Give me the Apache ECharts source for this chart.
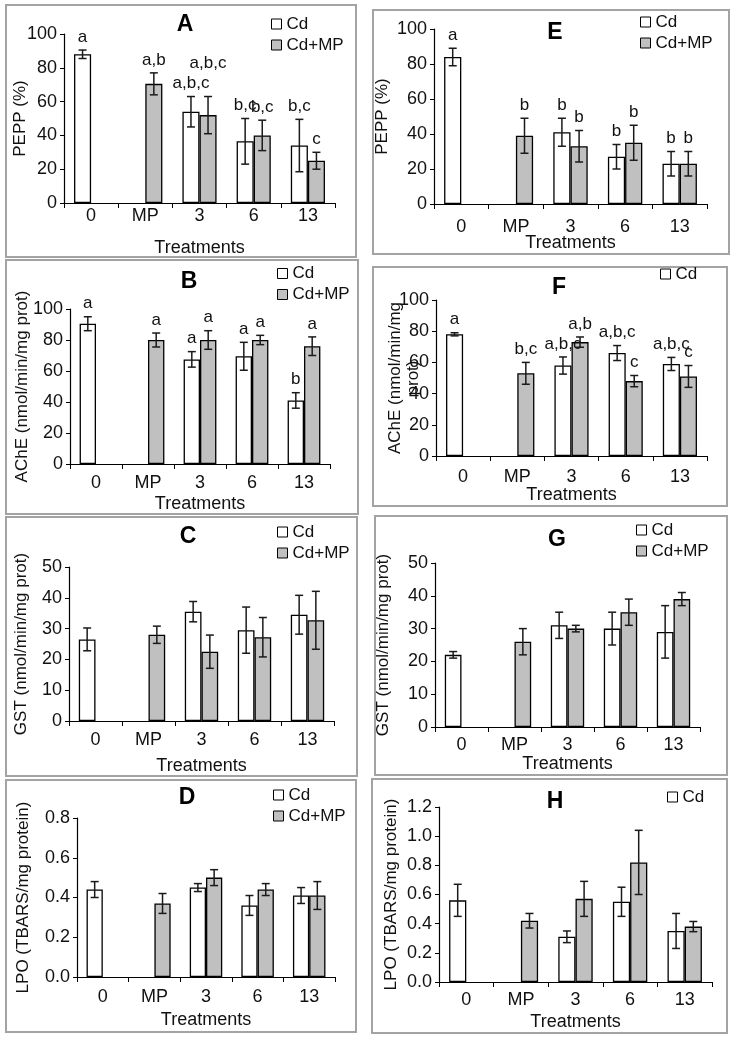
<!DOCTYPE html>
<html>
<head>
<meta charset="utf-8">
<script src="https://cdn.jsdelivr.net/npm/echarts@6/dist/echarts.min.js"></script>
<style>html,body{margin:0;padding:0;background:#fff}#c{width:737px;height:1040px}</style>
</head>
<body>
<div id="c"></div>
<script>
const categories = ['0', 'MP', '3', '6', '13'];
const seriesNames = ['Cd', 'Cd+MP'];
const xTitle = 'Treatments';

// Panel A — PEPP (%)
const A_cd = [88, null, 54, 36.5, 34];
const A_cdErr = [2.5, null, 9, 13.5, 15.5];
const A_mp = [null, 70.5, 52, 40, 25];
const A_mpErr = [null, 6.5, 11, 9, 5];
const A_cdSig = ['a', '', 'a,b,c', 'b,c', 'b,c'];
const A_mpSig = ['', 'a,b', 'a,b,c', 'b,c', 'c'];

// Panel B — AChE
const B_cd = [90.5, null, 67.5, 69.5, 41];
const B_cdErr = [4.5, null, 5, 9, 5];
const B_mp = [null, 80, 80, 80, 76];
const B_mpErr = [null, 4.5, 6, 3, 6];
const B_cdSig = ['a', '', 'a', 'a', 'b'];
const B_mpSig = ['', 'a', 'a', 'a', 'a'];

// Panel C — GST
const C_cd = [26.5, null, 35.5, 29.5, 34.5];
const C_cdErr = [3.7, null, 3.3, 7.5, 6.3];
const C_mp = [null, 28, 22.5, 27.2, 32.7];
const C_mpErr = [null, 2.8, 5.4, 6.4, 9.4];

// Panel D — LPO
const D_cd = [0.44, null, 0.45, 0.36, 0.41];
const D_cdErr = [0.04, null, 0.02, 0.05, 0.04];
const D_mp = [null, 0.37, 0.50, 0.44, 0.41];
const D_mpErr = [null, 0.05, 0.04, 0.03, 0.07];

// Panel E — PEPP (%)
const E_cd = [84, null, 41, 27, 23];
const E_cdErr = [5, null, 8, 7, 7];
const E_mp = [null, 39, 33, 35, 23];
const E_mpErr = [null, 10, 9, 10, 7];
const E_cdSig = ['a', '', 'b', 'b', 'b'];
const E_mpSig = ['', 'b', 'b', 'b', 'b'];

// Panel F — AChE
const F_cd = [78, null, 58, 66, 59];
const F_cdErr = [1, null, 5.5, 4.8, 4.2];
const F_mp = [null, 53, 73, 48, 51];
const F_mpErr = [null, 7, 3.3, 3.6, 7];
const F_cdSig = ['a', '', 'a,b,c', 'a,b,c', 'a,b,c'];
const F_mpSig = ['', 'b,c', 'a,b', 'c', 'c'];

// Panel G — GST
const G_cd = [22, null, 31, 30, 29];
const G_cdErr = [1, null, 4, 5, 8];
const G_mp = [null, 26, 30, 35, 39];
const G_mpErr = [null, 4, 1, 4, 2];

// Panel H — LPO
const H_cd = [0.56, null, 0.31, 0.55, 0.35];
const H_cdErr = [0.11, null, 0.04, 0.10, 0.12];
const H_mp = [null, 0.42, 0.57, 0.82, 0.38];
const H_mpErr = [null, 0.05, 0.12, 0.22, 0.035];

const yTitlePEPP = 'PEPP (%)';
const yTitleAChE = 'AChE (nmol/min/mg prot)';
const yTitleAChE2 = 'AChE (nmol/min/mg\nprot)';
const yTitleGST = 'GST (nmol/min/mg prot)';
const yTitleLPO = 'LPO (TBARS/mg protein)';

const yTicks100 = [0, 20, 40, 60, 80, 100];
const yTicks50 = [0, 10, 20, 30, 40, 50];
const yTicks08 = [0, 0.2, 0.4, 0.6, 0.8];
const yTicks12 = [0, 0.2, 0.4, 0.6, 0.8, 1.0, 1.2];

const panels = [
  {id:'A', cd:A_cd, cdErr:A_cdErr, mp:A_mp, mpErr:A_mpErr, cdSig:A_cdSig, mpSig:A_mpSig, yName:yTitlePEPP, ticks:yTicks100, dec:0,
   box:[6,5,350,252], grid:[64,34,271,169], title:[185,25], legend:[271,15.5], legendItems:seriesNames, yGap:35, xLblM:4, xNameGap:36, lift:{mp2:20}},
  {id:'B', cd:B_cd, cdErr:B_cdErr, mp:B_mp, mpErr:B_mpErr, cdSig:B_cdSig, mpSig:B_mpSig, yName:yTitleAChE, ticks:yTicks100, dec:0,
   box:[6,260,352,254], grid:[70,309,260,155], title:[189,282], legend:[277,265], legendItems:seriesNames, yGap:39, xLblM:10, xNameGap:31, lift:{}},
  {id:'C', cd:C_cd, cdErr:C_cdErr, mp:C_mp, mpErr:C_mpErr, cdSig:null, mpSig:null, yName:yTitleGST, ticks:yTicks50, dec:0,
   box:[6,517,351,259], grid:[69,567,265,154], title:[188,537], legend:[277,523.5], legendItems:seriesNames, yGap:39, xLblM:10, xNameGap:36, lift:{}},
  {id:'D', cd:D_cd, cdErr:D_cdErr, mp:D_mp, mpErr:D_mpErr, cdSig:null, mpSig:null, yName:yTitleLPO, ticks:yTicks08, dec:1,
   box:[6,780,350,252], grid:[77,818,258,159], title:[187,798], legend:[273,786.5], legendItems:seriesNames, yGap:45, xLblM:11, xNameGap:34, lift:{}},
  {id:'E', cd:E_cd, cdErr:E_cdErr, mp:E_mp, mpErr:E_mpErr, cdSig:E_cdSig, mpSig:E_mpSig, yName:yTitlePEPP, ticks:yTicks100, dec:0,
   box:[373,10,356,244], grid:[434,29,273,175], title:[555,33], legend:[640,13.5], legendItems:seriesNames, yGap:43, xLblM:14, xNameGap:30, lift:{}},
  {id:'F', cd:F_cd, cdErr:F_cdErr, mp:F_mp, mpErr:F_mpErr, cdSig:F_cdSig, mpSig:F_mpSig, yName:yTitleAChE2, ticks:yTicks100, dec:0,
   box:[373,267,354,239], grid:[436,300,271,156], title:[559,288], legend:[660,265.5], legendItems:['Cd'], yGap:14, xLblM:12, xNameGap:30, lift:{}},
  {id:'G', cd:G_cd, cdErr:G_cdErr, mp:G_mp, mpErr:G_mpErr, cdSig:null, mpSig:null, yName:yTitleGST, ticks:yTicks50, dec:0,
   box:[375,516,352,259], grid:[435,563,265,164], title:[557,540], legend:[636,521.5], legendItems:seriesNames, yGap:43, xLblM:9, xNameGap:28, lift:{}},
  {id:'H', cd:H_cd, cdErr:H_cdErr, mp:H_mp, mpErr:H_mpErr, cdSig:null, mpSig:null, yName:yTitleLPO, ticks:yTicks12, dec:1,
   box:[372,779,355,254], grid:[439,807,273,175], title:[555,802], legend:[667,788.5], legendItems:['Cd'], yGap:39, xLblM:9, xNameGap:31, lift:{}}
];

const FONT = '"Liberation Sans", Arial, sans-serif';
const TXT = '#111';
const GRAY = '#c0c0c0';
const BAR_FRAC = 0.315;

const grids = [], xAxes = [], yAxes = [], series = [], legends = [], graphics = [];

function errRenderer(side, errArr, sigArr, liftMap, key) {
  return function (params, api) {
    const i = api.value(0);
    const v = api.value(1);
    const e = errArr[i];
    if (v == null || isNaN(v)) return null;
    const catW = api.size([1, 0])[0];
    const cx = api.coord([i, v])[0] + side * (BAR_FRAC / 2) * catW;
    const yt = api.coord([i, v + (e || 0)])[1];
    const yb = api.coord([i, v - (e || 0)])[1];
    const cap = 4;
    const st = {stroke: '#1a1a1a', lineWidth: 1.5};
    const children = [
      {type: 'line', shape: {x1: cx, y1: yt, x2: cx, y2: yb}, style: st},
      {type: 'line', shape: {x1: cx - cap, y1: yt, x2: cx + cap, y2: yt}, style: st},
      {type: 'line', shape: {x1: cx - cap, y1: yb, x2: cx + cap, y2: yb}, style: st}
    ];
    if (sigArr && sigArr[i]) {
      const lift = liftMap[key + i] || 0;
      children.push({type: 'text', style: {text: sigArr[i], x: cx, y: yt - 13 - lift,
        textAlign: 'center', textVerticalAlign: 'middle', font: '17px ' + FONT, fill: TXT}});
    }
    return {type: 'group', children: children};
  };
}

panels.forEach(function (p, k) {
  grids.push({left: p.grid[0], top: p.grid[1], width: p.grid[2], height: p.grid[3], containLabel: false});
  xAxes.push({
    type: 'category', gridIndex: k, data: categories,
    name: xTitle, nameLocation: 'middle', nameGap: p.xNameGap, nameMoveOverlap: false,
    nameTextStyle: {fontFamily: FONT, fontSize: 18, color: TXT},
    axisLine: {lineStyle: {color: '#000', width: 1.2}},
    axisTick: {show: true, length: 5, lineStyle: {color: '#000'}},
    axisLabel: {fontFamily: FONT, fontSize: 18, color: TXT, margin: p.xLblM, interval: 0}
  });
  const t = p.ticks;
  yAxes.push({
    type: 'value', gridIndex: k, min: t[0], max: t[t.length - 1], interval: t[1] - t[0],
    name: p.yName, nameLocation: 'middle', nameGap: p.yGap, nameMoveOverlap: false,
    nameTextStyle: {fontFamily: FONT, fontSize: 17, color: TXT, lineHeight: 18},
    axisLine: {show: true, lineStyle: {color: '#000', width: 1.2}},
    axisTick: {show: true, length: 4, lineStyle: {color: '#000'}},
    splitLine: {show: false},
    axisLabel: {fontFamily: FONT, fontSize: 18, color: TXT, margin: 7,
      formatter: function (val) { return val.toFixed(p.dec); }}
  });
  series.push({
    name: 'Cd', type: 'bar', xAxisIndex: k, yAxisIndex: k, data: p.cd,
    barGap: '0%', barCategoryGap: '37%',
    itemStyle: {color: '#ffffff', borderColor: '#000', borderWidth: 1.3},
    emphasis: {disabled: true}, animation: false
  });
  series.push({
    name: 'Cd+MP', type: 'bar', xAxisIndex: k, yAxisIndex: k, data: p.mp,
    barGap: '0%', barCategoryGap: '37%',
    itemStyle: {color: GRAY, borderColor: '#000', borderWidth: 1.3},
    emphasis: {disabled: true}, animation: false
  });
  series.push({
    name: 'errCd' + p.id, type: 'custom', xAxisIndex: k, yAxisIndex: k, z: 5,
    data: p.cd.map(function (v, i) { return [i, v == null ? NaN : v]; }),
    renderItem: errRenderer(-1, p.cdErr, p.cdSig, p.lift, 'cd'), animation: false, silent: true
  });
  series.push({
    name: 'errMp' + p.id, type: 'custom', xAxisIndex: k, yAxisIndex: k, z: 5,
    data: p.mp.map(function (v, i) { return [i, v == null ? NaN : v]; }),
    renderItem: errRenderer(1, p.mpErr, p.mpSig, p.lift, 'mp'), animation: false, silent: true
  });
  legends.push({
    data: p.legendItems, orient: 'vertical', left: p.legend[0], top: p.legend[1], padding: 0,
    itemWidth: 10, itemHeight: 10, itemGap: 4, itemTextGap: 3, icon: 'rect',
    selectedMode: false,
    itemStyle: {borderColor: '#000', borderWidth: 1},
    textStyle: {fontFamily: FONT, fontSize: 17, color: TXT, lineHeight: 17}
  });
  graphics.push({type: 'rect', silent: true, z: 0,
    shape: {x: p.box[0], y: p.box[1], width: p.box[2], height: p.box[3]},
    style: {fill: 'none', stroke: '#a3a3a3', lineWidth: 2}});
  graphics.push({type: 'text', silent: true, z: 10,
    style: {text: p.id, x: p.title[0], y: p.title[1], textAlign: 'center', textVerticalAlign: 'middle',
      font: 'bold 23px ' + FONT, fill: '#000'}});
});

const chart = echarts.init(document.getElementById('c'), null, {renderer: 'canvas'});
chart.setOption({
  animation: false,
  backgroundColor: '#fff',
  grid: grids, xAxis: xAxes, yAxis: yAxes, series: series, legend: legends,
  graphic: {elements: graphics}
});
</script>
</body>
</html>
